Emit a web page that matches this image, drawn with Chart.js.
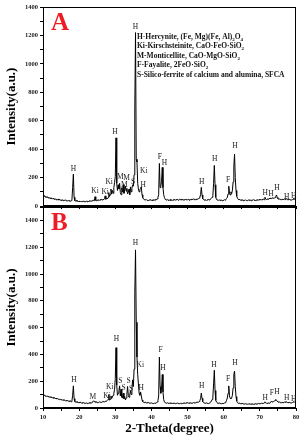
<!DOCTYPE html>
<html>
<head>
<meta charset="utf-8">
<script src="https://cdn.jsdelivr.net/npm/chart.js@4.4.1/dist/chart.umd.min.js"></script>
<style>
  body { margin: 0; background: #fff; }
  #wrap { position: relative; width: 302px; height: 440px; }
  canvas { position: absolute; left: 0; }
  #panelA { top: 0; }
  #panelB { top: 200px; }
</style>
</head>
<body>
<div id="wrap">
  <canvas id="panelB" width="302" height="240"></canvas>
  <canvas id="panelA" width="302" height="212"></canvas>
</div>
<script>
// scan grid: 10 to 80 deg, 0.2 deg step (one row per degree: .0 .2 .4 .6 .8)
const thetaStart = 10;
const thetaStep = 0.2;

const countsA = [
  72, 66, 74, 63, 68,   60, 66, 57, 62, 55,   58, 52, 57, 49, 54,   50, 46, 52, 44, 49,   // 10-13
  45, 50, 42, 47, 41,   44, 39, 45, 38, 42,   40, 44, 37, 41, 36,   39, 35, 40, 34, 38,   // 14-17
  42, 130, 225, 62, 38, 36, 40, 33, 37, 32,   35, 31, 36, 30, 34,   32, 36, 30, 35, 31,   // 18-21
  34, 30, 36, 32, 37,   33, 38, 34, 39, 36,   41, 37, 66, 40, 38,   43, 39, 44, 40, 46,   // 22-25
  42, 47, 43, 49, 45,   52, 72, 48, 55, 50,   60, 95, 68, 80, 120,  85, 110, 90, 130, 165, // 26-29
  210, 480, 160, 110, 150,  120, 160, 95, 80, 130,  100, 150, 90, 115, 140,  105, 125, 85, 95, 120, // 30-33
  80, 135, 100, 125, 150,   140, 220, 690, 1220, 330,  310, 160, 120, 100, 115,  125, 135, 80, 60, 50, // 34-37
  45, 48, 42, 46, 40,   43, 39, 44, 41, 45,   40, 44, 38, 45, 42,   46, 42, 48, 50, 62,   // 38-41
  80, 300, 130, 140, 175,  272, 130, 80, 60, 48,  45, 42, 47, 40, 44,  41, 46, 39, 44, 40,  // 42-45
  45, 41, 47, 42, 46,   43, 48, 41, 45, 50,   44, 48, 42, 47, 43,   46, 42, 50, 44, 47,   // 46-49
  43, 48, 45, 41, 46,   48, 43, 47, 52, 45,   49, 44, 50, 46, 52,   52, 56, 64, 80, 132,  // 50-53
  78, 52, 46, 44, 41,   44, 40, 45, 42, 47,   43, 48, 50, 55, 62,   75, 160, 286, 150, 62, // 54-57
  48, 42, 45, 40, 43,   39, 44, 41, 38, 43,   40, 45, 42, 48, 55,   62, 85, 140, 92, 78,   // 58-61
  100, 88, 110, 170, 280,  365, 200, 110, 70, 55,  48, 44, 46, 41, 45,  40, 44, 38, 43, 40, // 62-65
  44, 39, 42, 38, 43,   40, 45, 41, 38, 44,   41, 46, 40, 44, 39,   43, 40, 45, 41, 47,   // 66-69
  42, 46, 43, 48, 44,   49, 45, 62, 50, 46,   48, 52, 47, 55, 50,   58, 52, 56, 60, 55,   // 70-73
  56, 60, 68, 78, 60,   52, 48, 50, 46, 49,   45, 48, 44, 47, 50,   46, 55, 49, 45, 48,   // 74-77
  44, 47, 43, 46, 42,   45, 48, 56, 47, 44,   46                                          // 78-80
];

const countsB = [
  98, 92, 96, 88, 92,   86, 90, 83, 87, 80,   84, 78, 81, 75, 79,   72, 76, 70, 73, 67,   // 10-13
  70, 65, 68, 62, 66,   60, 64, 58, 61, 56,   59, 54, 57, 52, 55,   50, 54, 48, 52, 47,   // 14-17
  52, 95, 165, 70, 48,  44, 47, 41, 45, 40,   43, 38, 42, 37, 40,   36, 40, 35, 39, 34,   // 18-21
  38, 33, 37, 35, 39,   35, 40, 36, 44, 48,   54, 46, 48, 42, 45,   40, 44, 41, 46, 42,   // 22-25
  45, 42, 47, 44, 49,   46, 51, 48, 53, 58,   62, 100, 58, 65, 90,  70, 82, 95, 110, 140,  // 26-29
  220, 450, 170, 95, 110,  130, 165, 90, 140, 80,  75, 110, 70, 85, 60,  75, 100, 160, 95, 80, // 30-33
  95, 130, 100, 145, 210,  160, 290, 860, 1180, 640,  380, 250, 180, 110, 95,  120, 90, 60, 48, 42, // 34-37
  42, 39, 43, 38, 41,   37, 40, 36, 39, 35,   38, 34, 37, 33, 36,   35, 38, 40, 44, 56,   // 38-41
  90, 380, 160, 110, 150,  250, 120, 62, 45, 39,  38, 35, 39, 34, 37,  35, 38, 33, 36, 34,  // 42-45
  37, 33, 36, 32, 35,   34, 37, 33, 36, 32,   35, 32, 36, 33, 37,   34, 38, 35, 39, 36,   // 46-49
  40, 36, 39, 35, 38,   35, 39, 36, 40, 37,   41, 38, 43, 40, 45,   43, 48, 56, 70, 112,  // 50-53
  72, 48, 41, 38, 36,   35, 38, 34, 37, 33,   36, 39, 44, 52, 64,   82, 180, 282, 130, 58, // 54-57
  44, 39, 36, 34, 37,   33, 36, 32, 35, 31,   34, 37, 40, 46, 58,   75, 110, 165, 90, 72,  // 58-61
  68, 75, 95, 150, 250,  275, 160, 85, 52, 40,  37, 34, 36, 32, 35,  31, 34, 30, 33, 29,   // 62-65
  32, 29, 31, 28, 30,   29, 32, 28, 31, 27,   30, 27, 31, 28, 32,   29, 33, 30, 34, 31,   // 66-69
  35, 32, 36, 33, 37,   34, 39, 46, 38, 35,   37, 34, 38, 35, 39,   42, 52, 46, 44, 49,   // 70-73
  52, 56, 64, 58, 50,   46, 42, 45, 40, 43,   39, 42, 38, 41, 44,   42, 49, 44, 40, 43,   // 74-77
  39, 42, 38, 41, 37,   40, 44, 48, 42, 39,   41                                          // 78-80
];

// phase marks: [label, 2-theta, intensity where the label sits]
const peaksA = [
  ['H', 18.4, 258], ['Ki', 24.4, 108], ['Ki', 27.2, 100], ['Ki', 28.3, 167],
  ['H', 29.9, 520], ['M', 31.4, 205], ['M', 33.1, 195], ['M', 32.5, 150],
  ['S', 34.9, 170], ['H', 35.6, 1262], ['Ki', 37.9, 246], ['H', 37.7, 148],
  ['F', 42.3, 344], ['H', 43.6, 300], ['H', 53.9, 170], ['H', 57.5, 332],
  ['F', 61.2, 181], ['H', 63.1, 420], ['H', 71.5, 91], ['H', 73.1, 84],
  ['H', 74.7, 125], ['H', 77.4, 65], ['H', 79.4, 68]
];
const peaksB = [
  ['H', 18.6, 205], ['M', 23.8, 85], ['Ki', 28.5, 155], ['Ki', 27.7, 88],
  ['H', 30.3, 515], ['S', 31.4, 201], ['S', 32.3, 146], ['S', 33.7, 201],
  ['S', 34.4, 141], ['H', 35.6, 1231], ['Ki', 36.9, 320], ['H', 37.2, 151],
  ['F', 42.5, 431], ['H', 43.2, 295], ['H', 53.9, 163], ['H', 57.3, 319],
  ['F', 61.2, 213], ['H', 63.1, 332], ['H', 71.5, 77], ['F', 73.3, 114],
  ['H', 74.7, 121], ['H', 77.4, 72], ['H', 79.4, 67]
];

// _n means subscript n
const phaseNotes = [
  'H-Hercynite, (Fe, Mg)(Fe, Al)_2O_4',
  'Ki-Kirschsteinite, CaO\u00b7FeO\u00b7SiO_2',
  'M-Monticellite, CaO\u00b7MgO\u00b7SiO_2',
  'F-Fayalite, 2FeO\u00b7SiO_2',
  'S-Silico-ferrite of calcium and alumina, SFCA'
];

const serif = "'Liberation Serif', 'Times New Roman', serif";

function toPoints(counts) {
  return counts.map((c, i) => ({ x: +(thetaStart + i * thetaStep).toFixed(1), y: c }));
}

const xrdDecor = {
  id: 'xrdDecor',
  afterDraw(chart, args, opts) {
    const { ctx, chartArea: a, scales: { x, y } } = chart;
    ctx.save();
    // frame
    ctx.strokeStyle = '#000';
    ctx.lineWidth = 1;
    ctx.strokeRect(Math.round(a.left) + 0.5, Math.round(a.top) + 0.5,
      Math.round(a.right - a.left) - 1, Math.round(a.bottom - a.top) - 1);

    // peak marks
    ctx.fillStyle = '#1a1a1a';
    ctx.font = `7.5px ${serif}`;
    ctx.textAlign = 'center';
    ctx.textBaseline = 'middle';
    opts.peaks.forEach(([t, at, h]) => {
      ctx.fillText(t, x.getPixelForValue(at), y.getPixelForValue(h));
    });

    // panel letter
    ctx.fillStyle = '#ee1c24';
    ctx.font = `bold 25px ${serif}`;
    ctx.textAlign = 'left';
    ctx.textBaseline = 'alphabetic';
    ctx.fillText(opts.letter, a.left + 8, a.top + 23);

    // phase list
    if (opts.notes) {
      ctx.fillStyle = '#111';
      opts.notes.forEach((line, i) => {
        let px = a.left + 94;
        const py = a.top + 31.5 + i * 9.5;
        line.split(/(_\d)/).forEach((part) => {
          if (!part) return;
          if (part[0] === '_') {
            ctx.font = `bold 5px ${serif}`;
            ctx.fillText(part.slice(1), px, py + 2);
            px += ctx.measureText(part.slice(1)).width;
          } else {
            ctx.font = `bold 7.5px ${serif}`;
            ctx.fillText(part, px, py);
            px += ctx.measureText(part).width;
          }
        });
      });
    }
    ctx.restore();
  }
};

function makeChart(id, counts, peaks, letter, yMax, showX, notes) {
  const tickFont = { family: serif, size: 6.5, weight: 'bold' };
  return new Chart(document.getElementById(id), {
    type: 'line',
    data: {
      datasets: [{
        data: toPoints(counts),
        borderColor: '#000',
        borderWidth: 1,
        pointRadius: 0,
        tension: 0,
        fill: false
      }]
    },
    options: {
      responsive: false,
      animation: false,
      events: [],
      layout: { padding: { top: 7, right: 6, bottom: 0, left: 0 } },
      scales: {
        x: {
          type: 'linear',
          min: 10,
          max: 80,
          afterFit: (s) => { s.height = showX ? 32 : 5; },
          ticks: {
            stepSize: 5,
            autoSkip: false,
            maxRotation: 0,
            padding: 2,
            color: '#222',
            font: tickFont,
            callback: (v) => (showX && v % 10 === 0 ? v : '')
          },
          grid: { drawOnChartArea: false, tickLength: 3, tickColor: '#000' },
          border: { color: '#000' },
          title: {
            display: showX,
            text: '2-Theta(degree)',
            color: '#000',
            font: { family: serif, size: 13, weight: 'bold' },
            padding: { top: 0, bottom: 4 }
          }
        },
        y: {
          min: 0,
          max: yMax,
          afterFit: (s) => { s.width = 43; },
          ticks: {
            stepSize: 100,
            autoSkip: false,
            padding: 2,
            color: '#222',
            font: tickFont,
            callback: (v) => (v % 200 === 0 ? v : '')
          },
          grid: { drawOnChartArea: false, tickLength: 3, tickColor: '#000' },
          border: { color: '#000' },
          title: {
            display: true,
            text: 'Intensity(a.u.)',
            color: '#000',
            font: { family: serif, size: 13, weight: 'bold' },
            padding: { top: 4, bottom: 0 }
          }
        }
      },
      plugins: {
        legend: { display: false },
        tooltip: { enabled: false },
        xrdDecor: { peaks: peaks, letter: letter, notes: notes }
      }
    },
    plugins: [xrdDecor]
  });
}

makeChart('panelB', countsB, peaksB, 'B', 1500, true, null);
makeChart('panelA', countsA, peaksA, 'A', 1400, false, phaseNotes);
</script>
</body>
</html>
